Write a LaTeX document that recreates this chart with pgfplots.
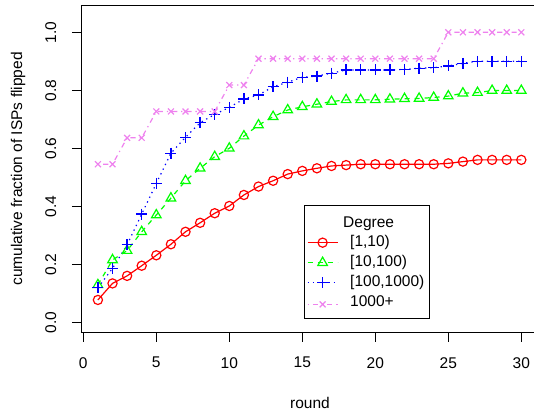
\documentclass[border=0pt]{standalone}
\usepackage{fontspec}
\setmainfont{Liberation Sans}
\usepackage{pgfplots}
\pgfplotsset{compat=1.18}
\definecolor{rred}{RGB}{255,0,0}
\definecolor{rgreen}{RGB}{0,255,0}
\definecolor{rblue}{RGB}{0,0,255}
\definecolor{rviolet}{RGB}{238,130,238}
\begin{document}
\begin{tikzpicture}
\begin{axis}[
  scale only axis,
  width=453pt, height=327.4pt,
  xmin=-0.158, xmax=30.87,
  ymin=-0.036, ymax=1.0931,
  axis x line*=box, axis y line*=left,
  axis line style={-, line width=0.8pt},
  xtick={0,5,...,30}, ytick={0,0.2,...,1.0},
  xtick pos=bottom, ytick pos=left,
  tick align=outside, major tick length=9pt,
  tick style={line width=0.8pt, black},
  font=\fontsize{15.5}{18}\selectfont,
  /pgf/number format/assume math mode=true,
  yticklabel style={rotate=90, anchor=south, inner ysep=15.5pt, /pgf/number format/fixed, /pgf/number format/fixed zerofill, /pgf/number format/precision=1},
  xticklabel style={yshift=-12pt},
  xlabel={round},
  ylabel={cumulative fraction of ISPs flipped},
  every axis x label/.style={at={(axis description cs:0.5055,-0.230)}, anchor=base},
  every axis y label/.style={at={(axis description cs:-0.139,0.5)}, rotate=90, anchor=center},
  legend cell align=left,
  legend style={at={(axis cs:15.09,0.4045)}, anchor=north west, draw=black, line width=0.8pt,
    nodes={text height=11.5pt, text depth=3.5pt, inner ysep=2.5pt, inner xsep=2pt},
    font=\fontsize{15.5}{18}\selectfont},
  legend image code/.code={\draw[mark repeat=2,mark phase=2,#1] plot coordinates {(0pt,0pt) (15pt,0pt) (30pt,0pt)};},
  every axis plot/.append style={line width=1.2pt},
]
\addlegendimage{empty legend}
\addlegendentry[text height=17.5pt, text depth=2.8pt]{\hspace{3pt}Degree}
\addplot[rred, solid, mark=o, mark size=4.6pt, mark options={solid, rred}] coordinates {
(1,0.077)(2,0.134)(3,0.160)(4,0.195)(5,0.231)(6,0.269)(7,0.312)(8,0.343)(9,0.376)(10,0.401)
(11,0.439)(12,0.468)(13,0.488)(14,0.511)(15,0.522)(16,0.531)(17,0.539)(18,0.542)(19,0.545)(20,0.545)
(21,0.545)(22,0.545)(23,0.545)(24,0.545)(25,0.548)(26,0.554)(27,0.560)(28,0.560)(29,0.560)(30,0.560)};
\addlegendentry{\hspace{10pt}[1,10)}
\addplot[rgreen, dash pattern=on 5pt off 5pt, mark=triangle, mark size=5.5pt, mark options={solid, rgreen}] coordinates {
(1,0.129)(2,0.215)(3,0.247)(4,0.312)(5,0.370)(6,0.428)(7,0.488)(8,0.531)(9,0.571)(10,0.600)
(11,0.642)(12,0.680)(13,0.709)(14,0.732)(15,0.743)(16,0.752)(17,0.761)(18,0.767)(19,0.767)(20,0.767)
(21,0.769)(22,0.771)(23,0.772)(24,0.775)(25,0.780)(26,0.790)(27,0.792)(28,0.799)(29,0.799)(30,0.799)};
\addlegendentry{\hspace{10pt}[10,100)}
\addplot[rblue, dash pattern=on 1.3pt off 3.9pt, mark=+, mark size=5.5pt, mark options={solid, rblue, line width=1.3pt}] coordinates {
(1,0.119)(2,0.186)(3,0.267)(4,0.373)(5,0.479)(6,0.583)(7,0.638)(8,0.688)(9,0.717)(10,0.741)
(11,0.770)(12,0.784)(13,0.812)(14,0.828)(15,0.845)(16,0.849)(17,0.859)(18,0.870)(19,0.870)(20,0.870)
(21,0.870)(22,0.872)(23,0.876)(24,0.878)(25,0.884)(26,0.893)(27,0.900)(28,0.900)(29,0.900)(30,0.900)};
\addlegendentry{\hspace{10pt}[100,1000)\hspace{-4pt}}
\addplot[rviolet, dash pattern=on 1.3pt off 3.9pt on 5.2pt off 3.9pt, mark=x, mark size=4.2pt, mark options={solid, rviolet}] coordinates {
(1,0.545)(2,0.545)(3,0.636)(4,0.636)(5,0.727)(6,0.727)(7,0.727)(8,0.727)(9,0.727)(10,0.818)
(11,0.818)(12,0.909)(13,0.909)(14,0.909)(15,0.909)(16,0.909)(17,0.909)(18,0.909)(19,0.909)(20,0.909)
(21,0.909)(22,0.909)(23,0.909)(24,0.909)(25,1.0)(26,1.0)(27,1.0)(28,1.0)(29,1.0)(30,1.0)};
\addlegendentry[text depth=7pt]{\hspace{10pt}1000+}
\end{axis}
\pgfresetboundingbox
\path[use as bounding box] (-81pt,-79.3pt) rectangle (453pt,332.7pt);
\end{tikzpicture}
\end{document}
